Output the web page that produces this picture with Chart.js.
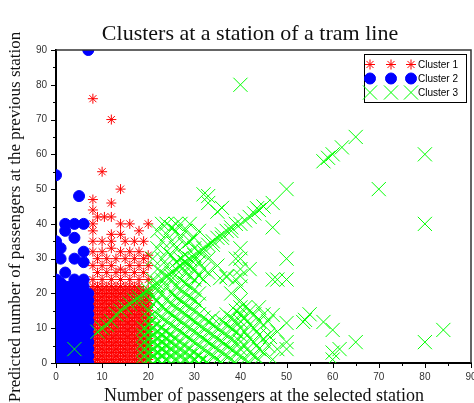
<!DOCTYPE html>
<html>
<head>
<meta charset="utf-8">
<script src="https://cdn.jsdelivr.net/npm/chart.js@4.4.1/dist/chart.umd.min.js"></script>
<style>
  body { margin: 0; background: #fff; }
  canvas { display: block; }
</style>
</head>
<body>
<canvas id="clusters" width="474" height="403"></canvas>
<script>
const chartTitle = 'Clusters at a station of a tram line';
const xTitle = 'Number of passengers at the selected station';
const yTitle = 'Predicted number of passengers at the previous station';
const seriesNames = ['Cluster 1', 'Cluster 2', 'Cluster 3'];
const majorTicks = [0, 10, 20, 30, 40, 50, 60, 70, 80, 90];
const minorTicks = [5, 15, 25, 35, 45, 55, 65, 75, 85];

// cluster 1 (red): scattered points above the dense block
const cluster1Pts = [
  [8, 76], [12, 70], [10, 55], [14, 50], [8, 47], [12, 46], [8, 44], [9, 42], [8, 40],
  [10.5, 42], [12, 42], [14, 40], [16, 40], [18, 38], [20, 40], [8, 38], [12, 37], [14, 37],
  [8, 35], [10, 35], [12, 35], [15, 35], [17, 35], [19, 35], [8, 32], [10, 32], [12, 33],
  [14, 32], [16, 32], [18, 32], [20, 31], [9, 30], [11, 30], [13, 30], [15, 30], [17, 30],
  [19, 30], [8, 28], [10, 28], [12, 28], [14, 27], [16, 28], [18, 28], [20, 28], [9, 26],
  [11, 26], [13, 26], [15, 26], [17, 26], [19, 26], [8, 24], [10, 24], [12, 24], [14, 24],
  [16, 24], [18, 24], [20, 24]
];
// cluster 1 dense block, one y list per x column
const cluster1Cols = [8, 9, 10, 11, 12, 13, 14, 15, 16, 17, 18, 19, 20];
const cluster1ColY = [
  [0, 1, 2, 3, 4, 5, 6, 7, 8, 9, 10, 11, 12, 13, 14, 15, 16, 17, 18, 19, 20, 21, 22],
  [0, 1, 2, 3, 4, 5, 6, 7, 8, 9, 10, 11, 12, 13, 14, 15, 16, 17, 18, 19, 20, 21, 22],
  [0, 1, 2, 3, 4, 5, 6, 7, 8, 9, 10, 11, 12, 13, 14, 15, 16, 17, 18, 19, 20, 21, 22],
  [0, 1, 2, 3, 4, 5, 6, 7, 8, 9, 10, 11, 12, 13, 14, 15, 16, 17, 18, 19, 20, 21, 22],
  [0, 1, 2, 3, 4, 5, 6, 7, 8, 9, 10, 11, 12, 13, 14, 15, 16, 17, 18, 19, 20, 21, 22],
  [0, 1, 2, 3, 4, 5, 6, 7, 8, 9, 10, 11, 12, 13, 14, 15, 16, 17, 18, 19, 20, 21, 22],
  [0, 1, 2, 3, 4, 5, 6, 7, 8, 9, 10, 11, 12, 13, 14, 15, 16, 17, 18, 19, 20, 21, 22],
  [0, 1, 2, 3, 4, 5, 6, 7, 8, 9, 10, 11, 12, 13, 14, 15, 16, 17, 18, 19, 20, 21, 22],
  [0, 1, 2, 3, 4, 5, 6, 7, 8, 9, 10, 11, 12, 13, 14, 15, 16, 17, 18, 19, 20, 21, 22],
  [0, 1, 2, 3, 4, 5, 6, 7, 8, 9, 10, 11, 12, 13, 14, 15, 16, 17, 18, 19, 20, 21, 22],
  [0, 1, 2, 3, 4, 5, 6, 7, 8, 9, 10, 11, 12, 13, 14, 15, 16, 17, 18, 19, 20, 21, 22],
  [0, 1, 2, 3, 4, 5, 6, 7, 8, 9, 10, 11, 12, 13, 14, 15, 16, 17, 18, 19, 20, 21],
  [0, 1, 2, 3, 4, 5, 6, 7, 8, 9, 10, 11, 12, 13, 14, 15, 16, 17, 18, 19, 20, 21]
];

// cluster 2 (blue)
const cluster2Pts = [
  [7, 90], [0, 54], [5, 48], [2, 40], [4, 40], [6, 40], [2, 38], [4, 36], [0, 35], [1, 33],
  [1, 30], [4, 30], [6, 32], [6, 29], [0, 31], [2, 26], [4, 24], [6, 24], [0, 24], [1, 23]
];
const cluster2Cols = [0, 1, 2, 3, 4, 5, 6, 7];
const cluster2ColY = [
  [0, 2, 4, 6, 8, 10, 12, 14, 16, 18, 20, 22],
  [0, 2, 4, 6, 8, 10, 12, 14, 16, 18, 20, 22],
  [0, 2, 4, 6, 8, 10, 12, 14, 16, 18, 20, 22],
  [0, 2, 4, 6, 8, 10, 12, 14, 16, 18, 20, 22],
  [0, 2, 4, 6, 8, 10, 12, 14, 16, 18, 20, 22],
  [0, 2, 4, 6, 8, 10, 12, 14, 16, 18, 20, 22],
  [0, 2, 4, 6, 8, 10, 12, 14, 16, 18, 20, 22],
  [0, 2, 4, 6, 8, 10, 12, 14, 16, 18, 20]
];

// cluster 3 (green): diagonal band and outliers
const cluster3Pts = [
  [4, 4], [9, 9], [10, 10], [11, 11], [12, 12], [13, 14], [14, 15], [15, 16], [16, 17],
  [17, 18], [18, 19], [18, 18], [19, 20], [20, 21], [20, 20], [21, 22], [22, 23], [22, 22],
  [23, 24], [24, 25], [25, 26], [25, 25], [26, 27], [27, 28], [28, 29], [28, 28], [29, 30],
  [30, 31], [30, 30], [31, 32], [32, 33], [32, 32], [33, 34], [34, 35], [34, 34], [35, 36],
  [36, 37], [36, 36], [37, 38], [38, 39], [38, 38], [39, 40], [40, 40], [41, 41], [42, 42],
  [43, 43], [44, 44], [45, 45], [47, 46], [50, 50],
  [33, 48], [32, 48.5], [36, 44.6], [43.6, 44.5], [35, 43.5], [33, 46], [47, 39], [50, 30],
  [48, 24], [50, 24], [54, 12.4], [55, 14], [53.6, 11.8], [58, 11.8], [60, 9.5], [65, 6],
  [80, 6], [84, 9.5], [60, 3], [61.5, 4], [60, 1], [80, 40], [80, 60], [40, 80], [70, 50],
  [65, 65], [62, 62], [60, 60], [59, 59], [58, 58], [50, 11.5], [50, 6], [50, 4], [47, 13.8],
  [46.4, 7.5], [37, 24.7], [35.6, 24.4]
];
const cluster3Cols = [19, 20, 21, 22, 23, 24, 25, 26, 27, 28, 29, 30, 31, 32, 33, 34, 35,
  36, 37, 38, 39, 40, 41, 42, 43, 44, 45, 46, 47, 48];
const cluster3ColY = [
  [0, 2, 4, 6, 8, 10],
  [1, 3, 5, 7, 9, 11, 13, 15],
  [0, 2, 4, 6, 8, 10, 12, 14, 17, 19, 24, 30],
  [1, 3, 5, 7, 9, 11, 14, 18, 21, 27, 33, 38],
  [0, 2, 4, 6, 8, 10, 13, 16, 20, 26, 30, 35, 40],
  [1, 3, 5, 7, 9, 12, 15, 18, 22, 28, 32, 37, 40],
  [0, 2, 4, 6, 8, 11, 14, 17, 20, 24, 31, 35, 39],
  [1, 3, 5, 7, 10, 13, 16, 19, 22, 29, 33, 38, 40],
  [0, 2, 4, 6, 9, 12, 15, 18, 21, 24, 30, 36, 40],
  [1, 3, 5, 8, 11, 14, 17, 20, 23, 26, 31, 34, 38],
  [0, 2, 4, 7, 10, 13, 16, 19, 22, 25, 28, 35, 40],
  [1, 3, 6, 9, 12, 15, 18, 21, 24, 27, 33, 36],
  [0, 2, 5, 8, 11, 14, 17, 20, 25, 29, 38],
  [1, 4, 7, 10, 13, 24, 27],
  [0, 3, 6, 9, 12, 26, 30],
  [2, 5, 8, 11, 13],
  [1, 4, 7, 10, 28],
  [0, 3, 6, 9, 12],
  [2, 5, 8, 11, 14, 25],
  [1, 4, 7, 10, 13, 20],
  [0, 3, 6, 9, 12, 15, 24, 30],
  [2, 4, 6, 8, 10, 12, 14, 16, 18, 22, 25, 27, 30, 33],
  [1, 5, 9, 13, 16],
  [0, 3, 7, 11, 15, 27],
  [2, 6, 10, 14],
  [1, 4, 8, 12, 16],
  [3, 7, 11, 14],
  [5, 8, 12],
  [1, 24],
  [4, 9]
];

function toPoints(pts, cols, colY) {
  const out = pts.map(p => ({ x: p[0], y: p[1] }));
  cols.forEach((x, i) => colY[i].forEach(y => out.push({ x: x, y: y })));
  return out;
}

const cluster1 = toPoints(cluster1Pts, cluster1Cols, cluster1ColY);
const cluster2 = toPoints(cluster2Pts, cluster2Cols, cluster2ColY);
const cluster3 = toPoints(cluster3Pts, cluster3Cols, cluster3ColY);

const styles = [
  { pointStyle: 'star', radius: 5, color: '#ff0000', fill: '#ff0000', borderWidth: 1 },
  { pointStyle: 'circle', radius: 5.5, color: '#0000ff', fill: '#0000ff', borderWidth: 1 },
  { pointStyle: 'crossRot', radius: 10, color: '#00ff00', fill: '#00ff00', borderWidth: 1 }
];

const framePlugin = {
  id: 'frame',
  afterDraw(chart) {
    const ctx = chart.ctx;
    const a = chart.chartArea;
    const xs = chart.scales.x;
    const ys = chart.scales.y;
    ctx.save();

    // top and right frame
    ctx.strokeStyle = '#333';
    ctx.lineWidth = 1.5;
    ctx.beginPath();
    ctx.moveTo(a.left, a.top);
    ctx.lineTo(a.right, a.top);
    ctx.lineTo(a.right, a.bottom);
    ctx.stroke();

    // tick marks
    ctx.strokeStyle = '#000';
    ctx.lineWidth = 1;
    ctx.beginPath();
    majorTicks.forEach(v => {
      const px = Math.round(xs.getPixelForValue(v)) + 0.5;
      ctx.moveTo(px, a.bottom); ctx.lineTo(px, a.bottom + 5);
      const py = Math.round(ys.getPixelForValue(v)) + 0.5;
      ctx.moveTo(a.left, py); ctx.lineTo(a.left - 5, py);
    });
    minorTicks.forEach(v => {
      const px = Math.round(xs.getPixelForValue(v)) + 0.5;
      ctx.moveTo(px, a.bottom); ctx.lineTo(px, a.bottom + 3);
      const py = Math.round(ys.getPixelForValue(v)) + 0.5;
      ctx.moveTo(a.left, py); ctx.lineTo(a.left - 3, py);
    });
    ctx.stroke();

    // titles
    ctx.fillStyle = '#111';
    ctx.textAlign = 'center';
    ctx.textBaseline = 'alphabetic';
    ctx.font = '22px "Liberation Serif"';
    ctx.fillText(chartTitle, 250, 40);
    ctx.font = '18px "Liberation Serif"';
    ctx.fillText(xTitle, 264, 401);
    ctx.save();
    ctx.translate(20, 217);
    ctx.rotate(-Math.PI / 2);
    ctx.font = '17px "Liberation Serif"';
    ctx.fillText(yTitle, 0, 0);
    ctx.restore();

    // legend
    const lx = 364.5, ly = 54.5, lw = 102, lh = 48;
    ctx.fillStyle = '#fff';
    ctx.fillRect(lx, ly, lw, lh);
    ctx.strokeStyle = '#000';
    ctx.lineWidth = 1;
    ctx.strokeRect(lx, ly, lw, lh);
    const markerX = [370, 391, 411];
    seriesNames.forEach((name, i) => {
      const rowY = 64.5 + i * 14;
      const s = styles[i];
      ctx.strokeStyle = s.color;
      ctx.fillStyle = s.fill;
      ctx.lineWidth = s.borderWidth;
      markerX.forEach(mx => {
        Chart.helpers.drawPoint(ctx, { pointStyle: s.pointStyle, radius: s.radius, rotation: 0, borderWidth: s.borderWidth }, mx, rowY);
      });
      ctx.fillStyle = '#000';
      ctx.font = '10px "Liberation Sans"';
      ctx.textAlign = 'left';
      ctx.textBaseline = 'middle';
      ctx.fillText(name, 418, rowY + 0.5);
    });
    ctx.restore();
  }
};

const data = {
  datasets: [cluster1, cluster2, cluster3].map((pts, i) => ({
    label: seriesNames[i],
    data: pts,
    pointStyle: styles[i].pointStyle,
    pointRadius: styles[i].radius,
    pointHoverRadius: styles[i].radius,
    borderColor: styles[i].color,
    backgroundColor: styles[i].fill,
    borderWidth: styles[i].borderWidth,
    order: 3 - i,
    clip: 0
  }))
};

const axisFont = { family: 'Liberation Sans', size: 10 };

new Chart(document.getElementById('clusters'), {
  type: 'scatter',
  data: data,
  options: {
    responsive: false,
    animation: false,
    events: [],
    layout: { autoPadding: false, padding: { top: 50, right: 3, left: 0, bottom: 0 } },
    plugins: {
      legend: { display: false },
      tooltip: { enabled: false }
    },
    scales: {
      x: {
        type: 'linear',
        min: 0,
        max: 90,
        afterFit: s => { s.height = 40; s.paddingLeft = 0; s.paddingRight = 0; },
        grid: { display: false, drawTicks: false },
        border: { display: true, color: '#000', width: 2 },
        ticks: {
          stepSize: 10,
          padding: 8,
          color: '#333',
          font: axisFont,
          maxRotation: 0
        }
      },
      y: {
        type: 'linear',
        min: 0,
        max: 90,
        afterFit: s => { s.width = 56; s.paddingTop = 0; s.paddingBottom = 0; },
        grid: { display: false, drawTicks: false },
        border: { display: true, color: '#000', width: 2 },
        ticks: {
          stepSize: 10,
          padding: 9,
          color: '#333',
          font: axisFont
        }
      }
    }
  },
  plugins: [framePlugin]
});
</script>
</body>
</html>
